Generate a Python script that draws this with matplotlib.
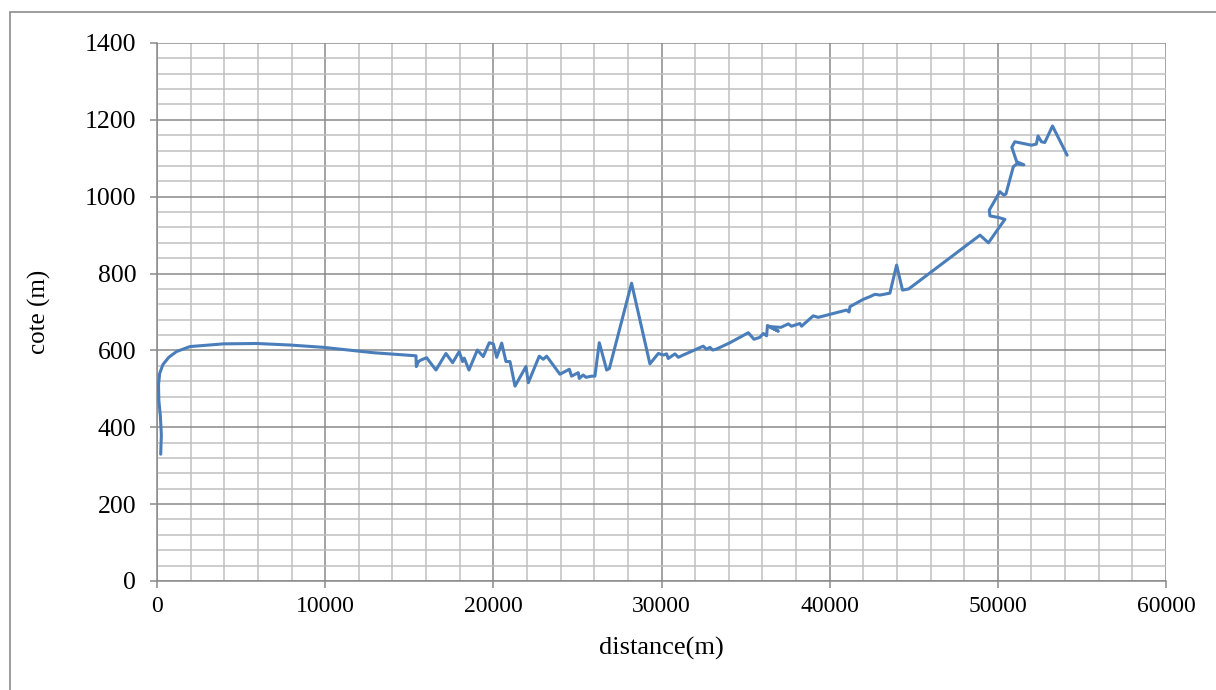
import numpy as np
import matplotlib.pyplot as plt
from matplotlib.ticker import MultipleLocator
from matplotlib.patches import Rectangle

# longitudinal profile: distance along the route (m) and elevation (m)
distance = [
    220, 260, 200, 110, 90, 160, 350, 700, 1160, 1960, 3940, 5920, 7910, 9890,
    12870, 15400,
    15420, 15550, 15700, 16030, 16590, 17180, 17580, 17970, 18170, 18270, 18550,
    19050, 19400, 19760, 20000, 20200, 20500, 20750, 20990, 21290, 21940, 22080,
    22730, 22970, 23170, 23960, 24520, 24650, 25050, 25110, 25340, 25510, 25840,
    26040, 26300, 26740, 26900, 28220, 29310, 29810, 30110, 30300, 30400, 30800,
    31000, 31290, 32480, 32680, 32880, 33040, 33240, 34070, 35160, 35500, 35850,
    36050, 36250, 36300, 36950, 36400, 37100, 37540, 37730, 38230, 38330, 39020,
    39320, 41000, 41150, 41210, 42000, 42400, 42690, 42990, 43580, 43980, 44330,
    44700, 48940, 49440, 50030, 50420, 50030, 49530, 49490, 49830, 50120, 50360,
    50480, 50920, 51120, 51550, 51120, 50830, 51010, 52000, 52290, 52390, 52590,
    52790, 53250, 54120,
]
cote = [
    330, 380, 430, 470, 510, 540, 563, 582, 597, 610, 617, 618, 614, 608,
    594, 586,
    558, 571, 575, 581, 549, 592, 568, 597, 571, 580, 549,
    601, 584, 620, 617, 582, 619, 571, 571, 507, 558, 516,
    585, 577, 585, 538, 551, 533, 542, 527, 536, 530, 533,
    533, 620, 549, 553, 775, 565, 592, 588, 591, 579, 591,
    582, 588, 611, 603, 608, 601, 603, 620, 646, 629, 634,
    644, 638, 665, 650, 662, 660, 669, 663, 670, 663, 690,
    686, 705, 700, 714, 733, 740, 746, 744, 749, 822, 757,
    760, 900, 880, 917, 941, 946, 950, 965, 991, 1013, 1004,
    1007, 1078, 1085, 1083, 1091, 1129, 1143, 1134, 1137, 1158, 1143,
    1141, 1184, 1108,
]

xticks = [0, 10000, 20000, 30000, 40000, 50000, 60000]
yticks = [0, 200, 400, 600, 800, 1000, 1200, 1400]

plt.rcParams['font.family'] = ['Liberation Serif', 'DejaVu Serif']

fig = plt.figure(figsize=(12.16, 6.90), dpi=100)
ax = fig.add_axes([0.1291, 0.158, 0.8298, 0.7797])

# outer frame of the chart object
fig.patches.append(Rectangle((10 / 1216, -0.05), 1.2, 1 - 12 / 690 + 0.05,
                             transform=fig.transFigure, fill=False,
                             edgecolor='#8c8c8c', linewidth=1.2))

ax.plot(distance, cote, color='#4A7EBB', linewidth=2.2,
        solid_joinstyle='round', solid_capstyle='round', zorder=3)

ax.set_xlim(xticks[0], xticks[-1])
ax.set_ylim(yticks[0], yticks[-1])
ax.set_xticks(xticks)
ax.set_yticks(yticks)
ax.xaxis.set_minor_locator(MultipleLocator(2000))
ax.yaxis.set_minor_locator(MultipleLocator(40))

ax.grid(which='major', color='#8a8a8a', linewidth=1.1, zorder=1)
ax.grid(which='minor', color='#c0c0c0', linewidth=1.1, zorder=0)
ax.set_axisbelow(True)

for side in ['top', 'right']:
    ax.spines[side].set_visible(False)
for side in ['left', 'bottom']:
    ax.spines[side].set_color('#8a8a8a')
    ax.spines[side].set_linewidth(1.1)

ax.tick_params(which='major', direction='out', length=5, width=1.1,
               color='#8a8a8a')
ax.tick_params(axis='x', which='major', pad=6, labelsize=17)
ax.tick_params(axis='y', which='major', pad=10, labelsize=18.5)
ax.tick_params(which='minor', length=0)

ax.set_xlabel('distance(m)', fontsize=19, labelpad=14)
ax.set_ylabel('cote (m)', fontsize=18, labelpad=24)

fig.savefig('out.png', dpi=100)
